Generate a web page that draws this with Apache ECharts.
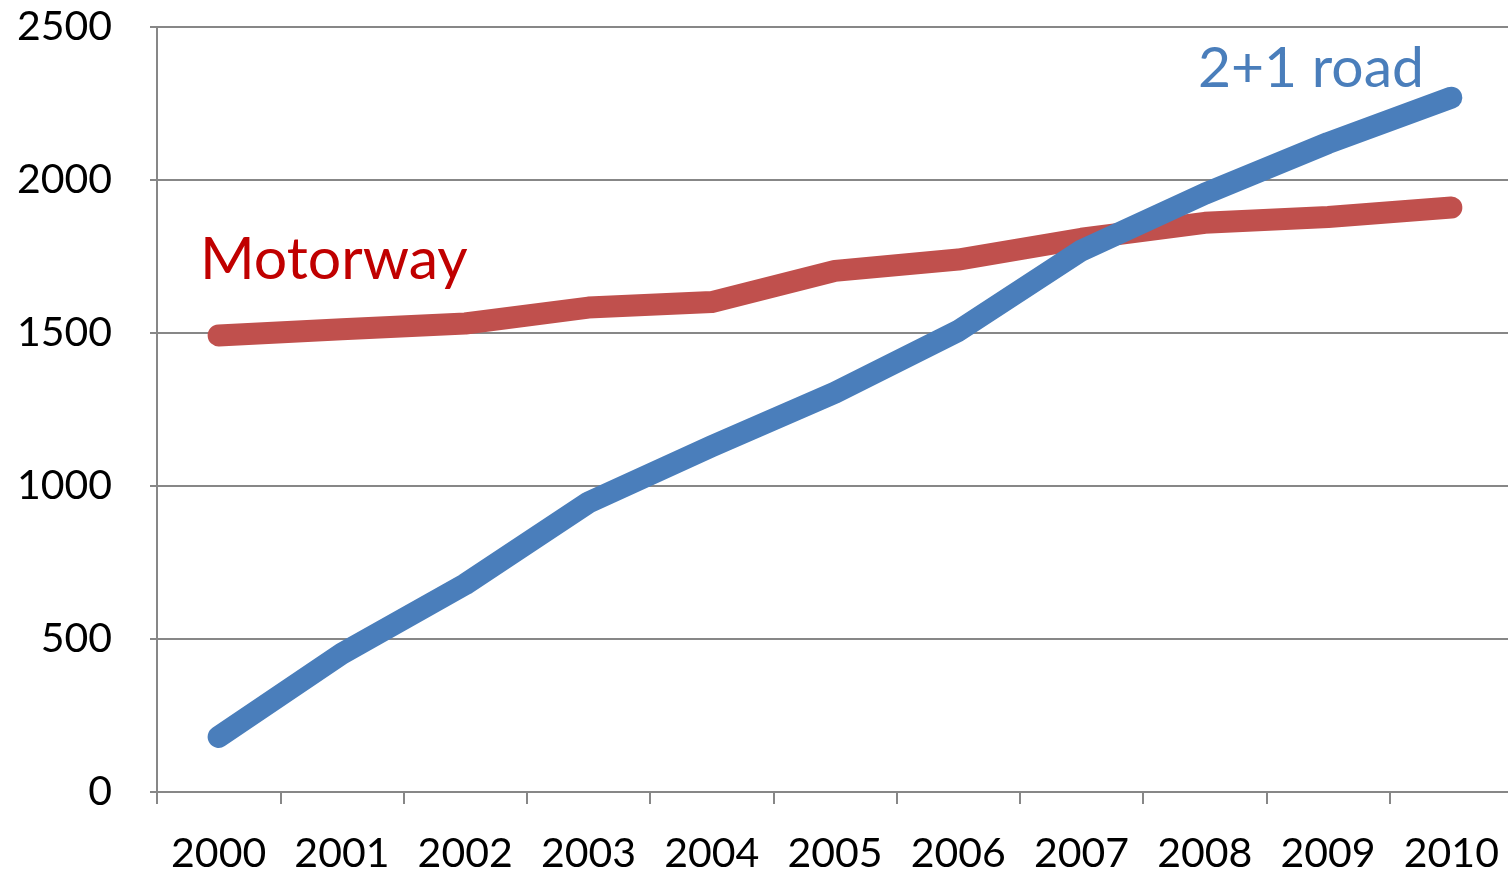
<!DOCTYPE html>
<html>
<head>
<meta charset="utf-8">
<title>Motorway vs 2+1 road</title>
<script src="https://cdn.jsdelivr.net/npm/echarts@6/dist/echarts.min.js"></script>
<style>
  html, body {
    margin: 0;
    padding: 0;
    background: #ffffff;
    overflow: hidden;
  }
  /* the plot runs a few px past the right edge of the window, as in the original */
  #chart {
    width: 1513px;
    height: 874px;
  }
</style>
</head>
<body>
<div id="chart"></div>
<script>
// data
const years = ['2000', '2001', '2002', '2003', '2004', '2005', '2006', '2007', '2008', '2009', '2010'];
const motorway = [1492, 1512, 1531, 1583, 1601, 1703, 1740, 1808, 1860, 1879, 1910];
const twoPlusOne = [180, 452, 679, 946, 1130, 1305, 1507, 1770, 1955, 2121, 2269];
const yTicks = [0, 500, 1000, 1500, 2000, 2500];

const axisGray = '#878787';
const fontFamily = 'Lato, "Open Sans", sans-serif';

const chart = echarts.init(document.getElementById('chart'));

const option = {
  animation: false,
  backgroundColor: '#ffffff',
  textStyle: {
    fontFamily: fontFamily
  },
  grid: {
    left: 157,
    top: 27,
    right: 0,
    bottom: 82
  },
  xAxis: {
    type: 'category',
    data: years,
    boundaryGap: true,
    axisLine: {
      lineStyle: { color: axisGray, width: 2 }
    },
    axisTick: {
      show: true,
      alignWithLabel: false,
      interval: 0,
      length: 12,
      lineStyle: { color: axisGray, width: 2 }
    },
    axisLabel: {
      color: '#000000',
      fontSize: 41,
      fontFamily: fontFamily,
      margin: 41,
      interval: 0
    },
    splitLine: { show: false }
  },
  yAxis: {
    type: 'value',
    min: yTicks[0],
    max: yTicks[yTicks.length - 1],
    interval: 500,
    axisLine: {
      show: true,
      lineStyle: { color: axisGray, width: 2 }
    },
    axisTick: {
      show: true,
      length: 7,
      lineStyle: { color: axisGray, width: 2 }
    },
    axisLabel: {
      color: '#000000',
      fontSize: 41,
      fontFamily: fontFamily,
      margin: 45,
      formatter: (v) => String(v)
    },
    splitLine: {
      lineStyle: { color: axisGray, width: 2 }
    }
  },
  series: [
    {
      name: 'Motorway',
      type: 'line',
      data: motorway,
      showSymbol: false,
      lineStyle: {
        color: '#c0504d',
        width: 22,
        cap: 'round',
        join: 'round'
      }
    },
    {
      name: '2+1 road',
      type: 'line',
      data: twoPlusOne,
      showSymbol: false,
      lineStyle: {
        color: '#4a7ebb',
        width: 22,
        cap: 'round',
        join: 'round'
      }
    }
  ],
  // series names written in the plot, as in the original
  graphic: [
    {
      type: 'text',
      left: 200,
      top: 230,
      style: {
        text: 'Motorway',
        fill: '#c00000',
        font: '59px ' + fontFamily
      }
    },
    {
      type: 'text',
      left: 1198,
      top: 40,
      style: {
        text: '2+1 road',
        fill: '#4a7ebb',
        font: '57px ' + fontFamily
      }
    }
  ]
};

chart.setOption(option);
</script>
</body>
</html>
